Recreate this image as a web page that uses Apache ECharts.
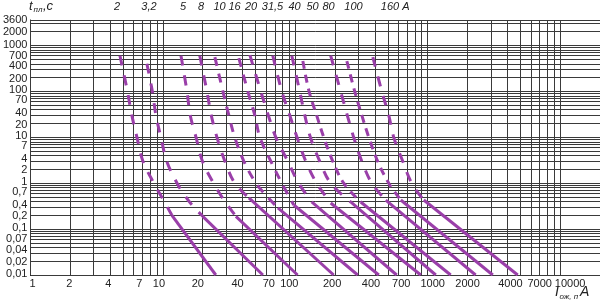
<!DOCTYPE html>
<html><head><meta charset="utf-8">
<script src="https://cdn.jsdelivr.net/npm/echarts@6/dist/echarts.min.js"></script>
<style>html,body{margin:0;padding:0;background:#fff}#c{width:600px;height:301px}</style>
</head><body><div id="c"></div>
<script>
// ---- data (current in A, time in s) ----
const ratings = ['2','3,2','5','8','10','16','20','31,5','40','50','80','100','160'];
// upper (dashed) parts of the time-current curves
const d2    = [[4.74,600],[5.40,100],[5.83,30],[6.37,10],[7.07,3],[8.55,1],[10.0,0.45],[11.7,0.2]];
const d3_2  = [[7.57,400],[8.33,100],[8.86,30],[9.66,10],[10.7,3],[12.8,1],[14.7,0.53],[16.6,0.335],[20.0,0.19]];
const d5    = [[13.7,600],[15.2,100],[16.1,30],[17.8,10],[19.9,3],[24.1,1],[28.9,0.43],[35.6,0.19]];
const d8    = [[19.0,600],[21.5,100],[23.2,30],[25.6,10],[29.4,3],[34.9,1],[44.6,0.48]];
const d10   = [[24.7,560],[28.4,100],[31.5,30],[34.9,10],[40.9,3],[50.4,1],[59.9,0.55],[73.8,0.29]];
const d16   = [[37.5,530],[43.8,100],[49.5,30],[54.0,10],[65.4,3],[79.1,1],[97.4,0.335]];
const d20   = [[45.4,620],[54.9,100],[62.6,30],[71.3,10],[87.8,3],[106,1],[133,0.39]];
const d31_5 = [[67.6,600],[79.1,100],[90.9,30],[103,10],[120,3],[145,1],[185,0.37]];
const d40   = [[94.1,600],[108,100],[118,30],[130,10],[153,3],[185,1],[262,0.39]];
const d50   = [[114,460],[127,100],[145,30],[164,10],[192,3],[232,1],[312,0.39]];
const d80   = [[185,600],[220,100],[247,30],[276,10],[318,3],[378,1],[482,0.43]];
const d100  = [[245,460],[281,100],[318,30],[359,10],[419,3],[508,1],[626,0.43]];
const d160  = [[385,560],[450,100],[508,30],[554,10],[648,3],[757,1],[933,0.43]];
// lower (solid) parts
const s2    = [[11.7,0.2],[25.1,0.01]];
const s3_2  = [[20.0,0.19],[56.9,0.01]];
const s5    = [[35.6,0.19],[104,0.01]];
const s8    = [[44.6,0.48],[195,0.01]];
const s10   = [[73.8,0.29],[296,0.01]];
const s16   = [[97.4,0.335],[427,0.01]];
const s20   = [[133,0.39],[583,0.01]];
const s31_5 = [[185,0.37],[886,0.01]];
const s40   = [[262,0.39],[1150,0.01]];
const s50   = [[312,0.39],[1490,0.01]];
const s80   = [[482,0.43],[2300,0.01]];
const s100  = [[626,0.43],[3100,0.01]];
const s160  = [[933,0.43],[4780,0.01]];

const xTickLabels = [1,2,4,7,10,20,40,70,100,200,400,700,1000,2000,4000,7000,10000];
const yTickLabels = [0.01,0.02,0.04,0.07,0.1,0.2,0.4,0.7,1,2,4,7,10,20,40,70,100,200,400,700,1000,2000,3600];
const xGrid = [1,2,3,4,5,6,7,8,9,10,20,30,40,50,60,70,80,90,100,200,300,400,500,600,700,800,900,
               1000,2000,3000,4000,5000,6000,7000,8000,9000,10000];
const yGrid = [0.01,0.02,0.03,0.04,0.05,0.06,0.07,0.08,0.09,0.1,0.2,0.3,0.4,0.5,0.6,0.7,0.8,0.9,
               1,2,3,4,5,6,7,8,9,10,20,30,40,50,60,70,80,90,100,200,300,400,500,600,700,800,900,
               1000,2000,3000,3600];

// ---- styling ----
const dashedParts = [d2,d3_2,d5,d8,d10,d16,d20,d31_5,d40,d50,d80,d100,d160];
const solidParts  = [s2,s3_2,s5,s8,s10,s16,s20,s31_5,s40,s50,s80,s100,s160];
const dashPattern = [[10,10],[10,10],[10,10],[10,10],[9,8],[9,8],[10,10],[10,10],[10,10],[8,6],[10,10],[8,6],[10,10]];
const purple = '#9a3fa9';
const FONT = '"Liberation Sans", Arial, sans-serif';
// small label nudges (px) to mimic hand placement in the original
const xShift = [2,-1,-2,-3,-4,-5,-5,-6,-6,-3,-4,-6,5,0,3,0,10];
const yShift = [-1,1,3,3,-1,1,3,2,-1,1,3,2,-1,1,3,1,-1,1,2,3,-1,0,0];

const fmt = v => String(Number(v.toPrecision(6))).replace('.', ',');
const richX = {}, richY = {};
xTickLabels.forEach((v,i)=>{
  const d = xShift[i];
  richX['x'+i] = {fontSize:11, fontFamily:FONT, color:'#222',
    padding: d>=0 ? [0,0,0,2*d] : [0,-2*d,0,0]};
});
yTickLabels.forEach((v,i)=>{
  const d = yShift[i];
  richY['y'+i] = {fontSize:11, fontFamily:FONT, color:'#222', lineHeight:12,
    padding: d>=0 ? [2*d,0,0,0] : [0,0,-2*d,0]};
});
const idxOf = (arr,v) => arr.findIndex(a => Math.abs(a-v) <= a*1e-6);

const series = [{
  type:'line', data:[], z:1, silent:true,
  markLine:{
    silent:true, symbol:['none','none'], animation:false,
    label:{show:false}, emphasis:{disabled:true},
    lineStyle:{type:'solid', color:'#3a3a3a', width:1},
    data: xGrid.map(v=>({xAxis:v})).concat(yGrid.map(v=>({yAxis:v})))
  }
}];
ratings.forEach((r,i)=>{
  series.push({
    name:r+' A dashed', type:'line', data:dashedParts[i], z:5, smooth:0.35,
    symbol:'none', showSymbol:false, silent:true, animation:false,
    lineStyle:{color:purple, width:3, type:dashPattern[i], cap:'butt'}
  });
  series.push({
    name:r+' A', type:'line', data:solidParts[i], z:5,
    symbol:'none', showSymbol:false, silent:true, animation:false,
    lineStyle:{color:purple, width:3, type:'solid', cap:'butt'}
  });
});

// rating labels along the top (pixel x positions)
const ratingLabelX = [117,149,183,201,219.5,234.5,251,272.5,294.5,312.5,328.5,353.5,390];
const txt = (text,x,y,size,align,extra) => Object.assign({
  type:'text', x:x, y:y, silent:true,
  style:{text:text, font:'italic '+size+'px '+FONT, fill:'#222',
         align:align, verticalAlign:'middle', textAlign:align, textVerticalAlign:'middle'}
}, extra||{});
const graphics = ratings.map((r,i)=>txt(r, ratingLabelX[i], 6.5, 11, 'center'));
graphics.push(txt('A', 406, 6.5, 11, 'center'));
graphics.push(txt('t', 29, 6, 13, 'left'));
graphics.push(txt('пл', 33.5, 9.5, 8, 'left'));
graphics.push(txt(',с', 43, 6, 13, 'left'));
graphics.push(txt('I', 555, 292.5, 14, 'left'));
graphics.push(txt('ож, п', 559.5, 296.5, 8, 'left'));
graphics.push(txt('A', 580, 292.5, 14, 'left'));

const chart = echarts.init(document.getElementById('c'), null, {renderer:'canvas'});
chart.setOption({
  animation:false,
  backgroundColor:'#fff',
  grid:{left:29, right:0, top:20, bottom:26, containLabel:false},
  xAxis:{
    type:'log', logBase:10, min:1, max:20000,
    axisLine:{show:true, lineStyle:{color:'#111', width:1}},
    axisTick:{show:false}, splitLine:{show:false}, minorSplitLine:{show:false},
    axisLabel:{
      customValues:xTickLabels, margin:3, fontSize:11, fontFamily:FONT, color:'#222',
      hideOverlap:false, showMinLabel:true, showMaxLabel:true,
      formatter:v=>{const i=idxOf(xTickLabels,v); return '{x'+i+'|'+fmt(v)+'}';},
      rich:richX
    }
  },
  yAxis:{
    type:'log', logBase:10, min:0.01, max:3600,
    axisLine:{show:true, lineStyle:{color:'#111', width:1}},
    axisTick:{show:false}, splitLine:{show:false}, minorSplitLine:{show:false},
    axisLabel:{
      customValues:yTickLabels, margin:3, fontSize:11, fontFamily:FONT, color:'#222',
      hideOverlap:false, showMinLabel:true, showMaxLabel:true,
      formatter:v=>{const i=idxOf(yTickLabels,v); return '{y'+i+'|'+fmt(v)+'}';},
      rich:richY
    }
  },
  series:series,
  graphic:graphics
});
</script>
</body></html>
